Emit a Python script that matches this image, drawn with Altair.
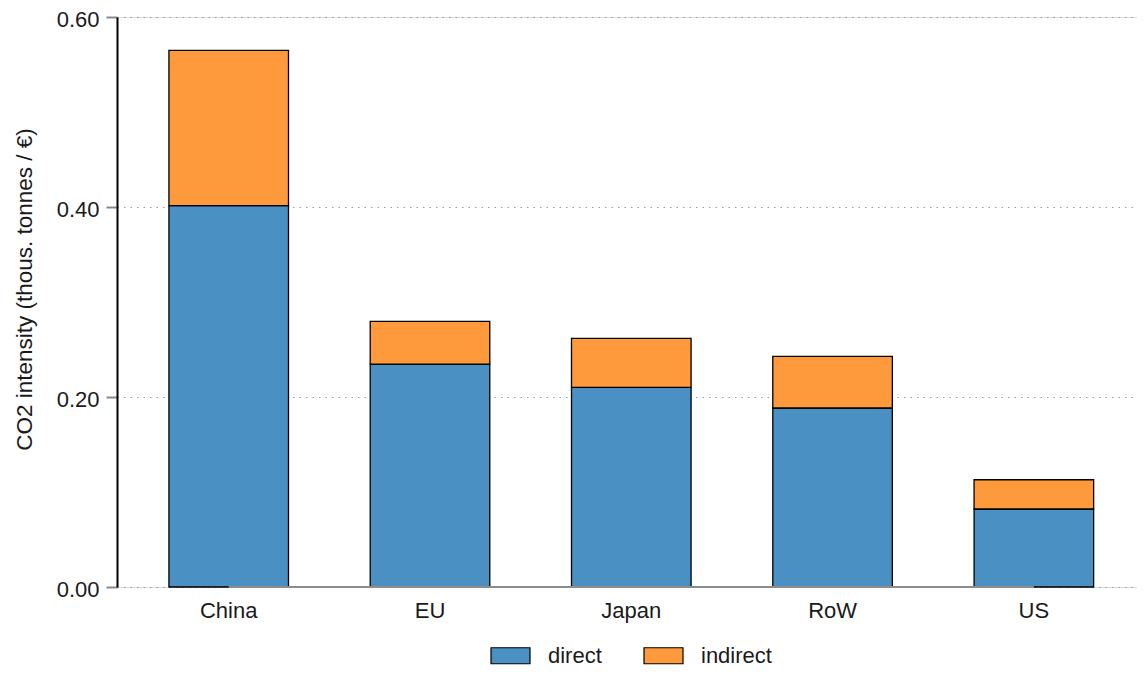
import altair as alt
import pandas as pd

countries = ["China", "EU", "Japan", "RoW", "US"]
direct = [0.4014, 0.2347, 0.2101, 0.1884, 0.0821]
indirect = [0.1634, 0.0449, 0.0516, 0.0543, 0.0308]
series = ["direct", "indirect"]
colors = ["#4a90c2", "#fe9a3c"]
y_ticks = [0.0, 0.2, 0.4, 0.6]

rows = []
for c, d, i in zip(countries, direct, indirect):
    rows.append({"country": c, "type": "direct", "value": d, "ord": 0})
    rows.append({"country": c, "type": "indirect", "value": i, "ord": 1})
df = pd.DataFrame(rows)

axis_df = pd.DataFrame({"start": [countries[0]], "end": [countries[-1]], "y": [0.0]})

FONT = "Liberation Sans"
FS = 22

xscale = alt.Scale(domain=countries, paddingInner=0.406, paddingOuter=0.2367, align=0.545)
yscale = alt.Scale(domain=[0, 0.6], nice=False, zero=True)

bars = alt.Chart(df).mark_bar(stroke="black", strokeWidth=1.3).encode(
    x=alt.X("country:N", scale=xscale, sort=countries,
            axis=alt.Axis(title=None, domain=False, ticks=False, labelAngle=0,
                          labelFontSize=FS, labelColor="#1a1a1a", labelFont=FONT,
                          labelPadding=13, grid=False)),
    y=alt.Y("value:Q", stack="zero", scale=yscale,
            axis=alt.Axis(title="CO2 intensity (thous. tonnes / €)", values=y_ticks, format=".2f",
                          labelFontSize=FS, labelColor="#1a1a1a", labelFont=FONT,
                          labelOffset=2,
                          titleFontSize=22.5, titleColor="#1a1a1a", titleFont=FONT,
                          titleFontWeight="normal", titlePadding=20, titleY=272,
                          domainColor="black", domainWidth=2,
                          tickColor="#888888", tickSize=11, tickWidth=2, labelPadding=7,
                          grid=True, gridColor="#9a9a9a", gridDash=[1.5, 5], gridWidth=1.2)),
    color=alt.Color("type:N", scale=alt.Scale(domain=series, range=colors),
                    legend=alt.Legend(title=None, orient="none", legendX=373, legendY=618,
                                      direction="horizontal",
                                      symbolType="M-1,-0.41L1,-0.41L1,0.41L-1,0.41Z",
                                      symbolSize=1521, symbolStrokeColor="black",
                                      symbolStrokeWidth=1.2, symbolOpacity=1,
                                      labelFontSize=FS, labelFont=FONT, labelColor="#1a1a1a",
                                      labelOffset=17, columnPadding=39, padding=0)),
    order=alt.Order("ord:Q", sort="ascending"),
)

xline = alt.Chart(axis_df).mark_rule(color="#8c8c8c", strokeWidth=2).encode(
    x=alt.X("start:N", scale=xscale),
    x2="end:N",
    y=alt.Y("y:Q", scale=yscale),
)

chart = alt.layer(bars, xline).properties(
    width=1020, height=570,
    autosize=alt.AutoSizeParams(type="none"),
    padding={"left": 109, "top": 9, "right": 0, "bottom": 80},
).configure_view(stroke=None).configure(font=FONT)

chart.save("out.html", embed_options={"renderer": "svg", "actions": False})
